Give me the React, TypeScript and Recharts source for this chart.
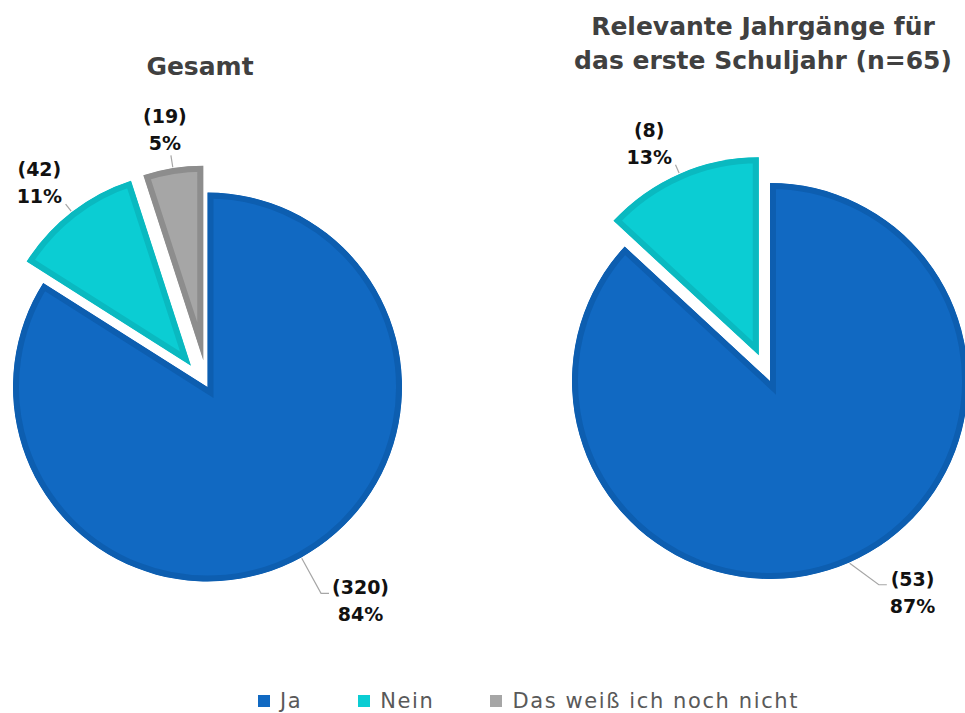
import React from 'react';
import { PieChart, Pie, Cell, Sector, Legend } from 'recharts';

// ---------- data ----------
const CATEGORIES = ['Ja', 'Nein', 'Das weiß ich noch nicht'];
const GESAMT_VALUES = [320, 42, 19];
const RELEVANT_VALUES = [53, 8];
const TITLE_LEFT = ['Gesamt'];
const TITLE_RIGHT = ['Relevante Jahrgänge für', 'das erste Schuljahr (n=65)'];

const leftData = CATEGORIES.map((name, i) => ({ name, value: GESAMT_VALUES[i] }));
const rightData = RELEVANT_VALUES.map((value, i) => ({ name: CATEGORIES[i], value }));

// ---------- styles ----------
const COLORS = ['#1169C2', '#0BCDD3', '#A6A6A6'];
const STROKES = ['#0D5EB0', '#0AB9C0', '#8D8D8D'];
const BORDER = 6; // inner border width
const EXPLODED = new Set(['Nein', 'Das weiß ich noch nicht']);
const RAD = Math.PI / 180;
const FONT = '"DejaVu Sans", sans-serif';
const LABEL_SIZE = 19;
const CHAR_W: Record<string, number> = { '(': 0.457, ')': 0.457, '%': 1.002 };
const textW = (s: string) => [...s].reduce((a, c) => a + (CHAR_W[c] ?? 0.696), 0) * LABEL_SIZE;

type Cfg = { id: string; explode: number; jaExt: number; jaRot: number };
const LEFT_CFG: Cfg = { id: 'l', explode: 27, jaExt: 41, jaRot: 0 };
const RIGHT_CFG: Cfg = { id: 'r', explode: 28, jaExt: 33, jaRot: 4.5 };

function offsetFor(name: string, midAngle: number, explode: number) {
  const d = EXPLODED.has(name) ? explode : 0;
  return { dx: d * Math.cos(-midAngle * RAD), dy: d * Math.sin(-midAngle * RAD) };
}

const makeShape = (cfg: Cfg) => (props: any) => {
  const n = props.payload?.name ?? props.name;
  const { dx, dy } = offsetFor(n, props.midAngle, cfg.explode);
  const clipId = `clip-${cfg.id}-${CATEGORIES.indexOf(n)}`;
  const sp = {
    cx: props.cx + dx,
    cy: props.cy + dy,
    innerRadius: 0,
    outerRadius: props.outerRadius,
    startAngle: props.startAngle,
    endAngle: props.endAngle,
  };
  return (
    <g>
      <defs>
        <clipPath id={clipId}>
          <Sector {...sp} />
        </clipPath>
      </defs>
      <g clipPath={`url(#${clipId})`}>
        <Sector {...sp} fill={props.fill} stroke={props.stroke} strokeWidth={BORDER * 2} />
      </g>
    </g>
  );
};

const makeLabel = (cfg: Cfg) => (props: any) => {
  const { cx, cy, midAngle, outerRadius, value, percent, payload, name } = props;
  const n = payload?.name ?? name;
  const { dx, dy } = offsetFor(n, midAngle, cfg.explode);
  const ox = cx + dx;
  const oy = cy + dy;
  const cos = Math.cos(-midAngle * RAD);
  const sin = Math.sin(-midAngle * RAD);
  const r0 = outerRadius + 1;
  const line1 = `(${value})`;
  const line2 = `${Math.round(percent * 100)}%`;
  const hw = Math.max(textW(line1), textW(line2)) / 2;
  const sx = ox + r0 * cos;
  const sy = oy + r0 * sin;
  let points: string;
  let tx: number;
  let by: number;
  if (n === 'Ja') {
    const a = -(midAngle + cfg.jaRot) * RAD;
    const ex = ox + (outerRadius + cfg.jaExt) * Math.cos(a);
    const ey = oy + (outerRadius + cfg.jaExt) * Math.sin(a);
    const dir = cos >= 0 ? 1 : -1;
    points = `${sx},${sy} ${ex},${ey} ${ex + dir * 8},${ey}`;
    tx = ex + dir * (8 + 3 + hw);
    by = ey + 28;
  } else if (Math.abs(cos) < 0.3) {
    const ex = ox + (outerRadius + 13) * cos;
    const ey = oy + (outerRadius + 13) * sin;
    points = `${sx},${sy} ${ex},${ey}`;
    tx = ex - 6;
    by = ey - 5;
  } else {
    const ex = ox + (outerRadius + 10) * cos;
    const ey = oy + (outerRadius + 10) * sin;
    const dir = cos >= 0 ? 1 : -1;
    points = `${sx},${sy} ${ex},${ey}`;
    tx = ex + dir * (3.5 + hw);
    by = ey - 1;
  }
  const tp = { textAnchor: 'middle' as const, fontFamily: FONT, fontSize: LABEL_SIZE, fontWeight: 700, fill: '#111' };
  return (
    <g>
      <polyline points={points} fill="none" stroke="#A6A6A6" strokeWidth={1.2} />
      <text x={tx} y={by - 27} {...tp}>{line1}</text>
      <text x={tx} y={by} {...tp}>{line2}</text>
    </g>
  );
};

const LegendRow = () => (
  <div
    style={{
      display: 'flex',
      alignItems: 'center',
      paddingLeft: 258,
      fontFamily: FONT,
      fontSize: 21,
      lineHeight: '24px',
      color: '#595959',
      letterSpacing: 1.6,
    }}
  >
    {CATEGORIES.map((c, i) => (
      <div key={c} style={{ display: 'flex', alignItems: 'center', marginRight: 56 }}>
        <span style={{ width: 12, height: 12, background: COLORS[i], marginRight: 10, display: 'inline-block' }} />
        <span>{c}</span>
      </div>
    ))}
  </div>
);

const titleProps = { textAnchor: 'middle' as const, fontFamily: FONT, fontSize: 25, fontWeight: 700, fill: '#404040' };

export default function App() {
  return (
    <div style={{ position: 'absolute', left: 0, top: 0, width: 965, height: 713, background: '#fff' }}>
      <PieChart width={965} height={713} margin={{ top: 0, right: 0, bottom: 0, left: 0 }}>
        <text x={200} y={75} {...titleProps}>{TITLE_LEFT[0]}</text>
        <text x={763} y={35} {...titleProps}>{TITLE_RIGHT[0]}</text>
        <text x={763} y={69} {...titleProps}>{TITLE_RIGHT[1]}</text>
        <Pie
          data={leftData}
          dataKey="value"
          nameKey="name"
          cx={207.5}
          cy={387}
          innerRadius={0}
          outerRadius={194.5}
          startAngle={90}
          endAngle={-270}
          isAnimationActive={false}
          shape={makeShape(LEFT_CFG)}
          label={makeLabel(LEFT_CFG)}
          labelLine={false}
        >
          {leftData.map((d, i) => (
            <Cell key={d.name} fill={COLORS[i]} stroke={STROKES[i]} />
          ))}
        </Pie>
        <Pie
          data={rightData}
          dataKey="value"
          nameKey="name"
          cx={770}
          cy={381}
          innerRadius={0}
          outerRadius={198}
          startAngle={90}
          endAngle={-270}
          isAnimationActive={false}
          shape={makeShape(RIGHT_CFG)}
          label={makeLabel(RIGHT_CFG)}
          labelLine={false}
        >
          {rightData.map((d, i) => (
            <Cell key={d.name} fill={COLORS[i]} stroke={STROKES[i]} />
          ))}
        </Pie>
        <Legend content={() => <LegendRow />} wrapperStyle={{ position: 'absolute', left: 0, top: 689, width: 965 }} />
      </PieChart>
    </div>
  );
}
